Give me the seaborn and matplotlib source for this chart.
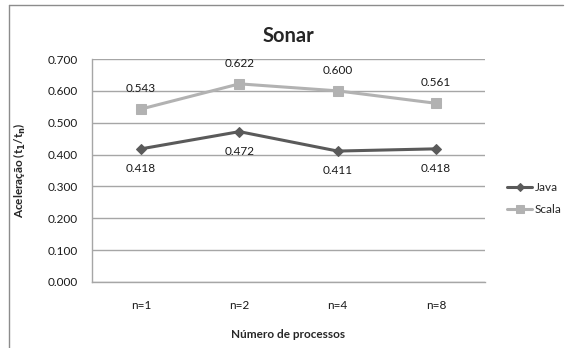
import matplotlib
matplotlib.use("Agg")
import matplotlib.pyplot as plt
from matplotlib.lines import Line2D
import seaborn as sns
import pandas as pd

categories = ["n=1", "n=2", "n=4", "n=8"]
java = [0.418, 0.472, 0.411, 0.418]
scala = [0.543, 0.622, 0.600, 0.561]
yticks = [0.0, 0.1, 0.2, 0.3, 0.4, 0.5, 0.6, 0.7]

sns.set_theme(style="white")
plt.rcParams["font.family"] = ["Lato", "DejaVu Sans"]

df = pd.DataFrame({
    "cat": categories * 2,
    "x": list(range(len(categories))) * 2,
    "value": java + scala,
    "serie": ["Java"] * len(java) + ["Scala"] * len(scala),
})

colors = {"Java": "#5a5a5a", "Scala": "#b2b2b2"}
markers = {"Java": "D", "Scala": "s"}

fig = plt.figure(figsize=(5.65, 3.48), dpi=100)
ax = fig.add_axes([92 / 565, 1 - 282 / 348, (485 - 92) / 565, (282 - 59) / 348])

for name in ["Java", "Scala"]:
    sub = df[df["serie"] == name]
    sns.lineplot(data=sub, x="x", y="value", ax=ax, color=colors[name],
                 marker=markers[name], markersize=5.5 if name == "Java" else 7.5,
                 markeredgecolor=colors[name], linewidth=2.2, label=name,
                 zorder=3)

# value labels
for i, v in enumerate(scala):
    ax.annotate(f"{v:.3f}", (i, v), xytext=(0, 11), textcoords="offset points",
                ha="center", va="bottom", fontsize=8.5, color="#1a1a1a")
for i, v in enumerate(java):
    ax.annotate(f"{v:.3f}", (i, v), xytext=(0, -10), textcoords="offset points",
                ha="center", va="top", fontsize=8.5, color="#1a1a1a")

ax.set_xlim(-0.5, len(categories) - 0.5)
ax.set_ylim(0, 0.7)
ax.set_yticks(yticks)
ax.set_yticklabels([f"{t:.3f}" for t in yticks], fontsize=8.5, color="#1a1a1a")
ax.set_xticks(range(len(categories)))
ax.set_xticklabels(categories, fontsize=8.5, color="#1a1a1a")
ax.tick_params(axis="x", pad=13, length=0)
ax.tick_params(axis="y", pad=10, length=0)
ax.yaxis.grid(True, color="#a6a6a6", linewidth=1.0)
ax.set_axisbelow(True)
for side in ["top", "right"]:
    ax.spines[side].set_visible(False)
for side in ["left", "bottom"]:
    ax.spines[side].set_color("#a6a6a6")
    ax.spines[side].set_linewidth(1.0)

ax.set_xlabel("Número de processos", fontsize=8.5, fontweight="bold", labelpad=13)
ax.set_ylabel("Aceleração (t$_\\mathbf{1}$/t$_\\mathbf{n}$)", fontsize=8.5,
              fontweight="bold", labelpad=14)
ax.set_title("Sonar", fontsize=14.5, fontweight="bold", pad=12)

leg = ax.legend(loc="center left", bbox_to_anchor=(1.03, 0.375), frameon=False,
                fontsize=8.5, handlelength=2.1, handletextpad=0.2,
                labelspacing=0.95, markerscale=0.75)

# outer chart frame (top and left edges)
fig.add_artist(Line2D([9 / 565, 563 / 565], [1 - 5 / 348, 1 - 5 / 348],
                      transform=fig.transFigure, color="#8c8c8c", linewidth=1.0))
fig.add_artist(Line2D([9 / 565, 9 / 565], [0, 1 - 5 / 348],
                      transform=fig.transFigure, color="#8c8c8c", linewidth=1.0))

fig.savefig("out.png", dpi=100)
